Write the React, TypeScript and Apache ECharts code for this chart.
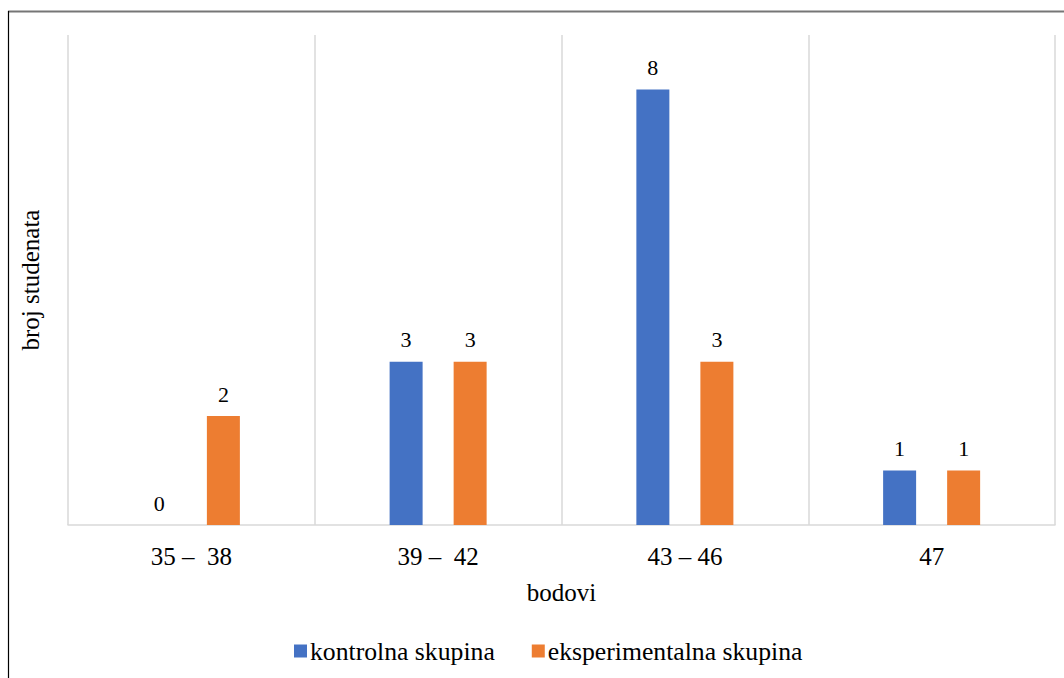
import React, { useEffect, useRef } from "react";
import * as echarts from "echarts";

const categories = ["35 –  38", "39 –  42", "43 – 46", "47"];
const kontrolna = [0, 3, 8, 1];
const eksperimentalna = [2, 3, 3, 1];
const seriesNames = ["kontrolna skupina", "eksperimentalna skupina"];

export default function App() {
  const ref = useRef<HTMLDivElement>(null);
  useEffect(() => {
    document.body.style.margin = "0";
    const chart = echarts.init(ref.current!, null, { renderer: "svg" });
    const font = "Liberation Serif";
    const labelStyle = {
      show: true,
      position: "top" as const,
      distance: 11,
      color: "#000",
      fontFamily: font,
      fontSize: 22,
    };
    chart.setOption({
      animation: false,
      backgroundColor: "#fff",
      textStyle: { fontFamily: font },
      graphic: [
        { type: "line", shape: { x1: 8, y1: 11.5, x2: 1064, y2: 11.5 }, style: { stroke: "#767676", lineWidth: 2 } },
        { type: "line", shape: { x1: 8.5, y1: 11, x2: 8.5, y2: 678 }, style: { stroke: "#000", lineWidth: 1.2 } },
      ],
      grid: { left: 68, right: 9, top: 35, bottom: 153 },
      legend: {
        bottom: 9,
        left: 289,
        itemWidth: 13,
        itemHeight: 13,
        itemGap: 37,
        icon: "rect",
        textStyle: { fontFamily: font, fontSize: 25.7, color: "#000", padding: [0, 0, 0, -2] },
        data: seriesNames,
      },
      xAxis: {
        type: "category",
        data: categories,
        name: "bodovi",
        nameLocation: "middle",
        nameGap: 55,
        nameTextStyle: { fontFamily: font, fontSize: 25, color: "#000" },
        axisLine: { lineStyle: { color: "#d9d9d9", width: 1.5 } },
        axisTick: { show: false },
        axisLabel: { fontFamily: font, fontSize: 25, color: "#000", margin: 19 },
        splitLine: { show: true, lineStyle: { color: "#d9d9d9", width: 1.5 } },
      },
      yAxis: {
        type: "value",
        min: 0,
        max: 9,
        name: "broj studenata",
        nameLocation: "middle",
        nameGap: 25,
        nameTextStyle: { fontFamily: font, fontSize: 25, color: "#000" },
        axisLine: { show: false },
        axisTick: { show: false },
        axisLabel: { show: false },
        splitLine: { show: false },
      },
      series: [
        {
          name: seriesNames[0],
          type: "bar",
          data: kontrolna,
          barWidth: 33,
          barGap: "94%",
          itemStyle: { color: "#4472C4" },
          label: labelStyle,
        },
        {
          name: seriesNames[1],
          type: "bar",
          data: eksperimentalna,
          barWidth: 33,
          itemStyle: { color: "#ED7D31" },
          label: labelStyle,
        },
      ],
    });
    return () => chart.dispose();
  }, []);
  return <div ref={ref} style={{ position: "fixed", left: 0, top: 0, width: 1064, height: 678 }} />;
}
